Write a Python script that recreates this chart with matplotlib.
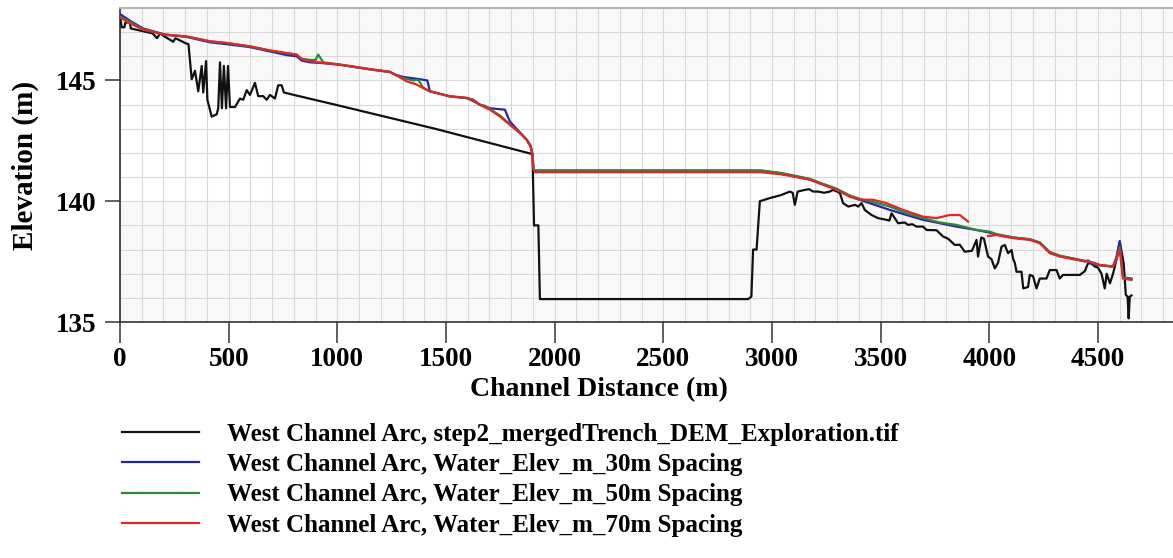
import numpy as np
import matplotlib.pyplot as plt
from matplotlib.ticker import MultipleLocator

plt.rcParams['font.family'] = ['Liberation Serif', 'DejaVu Serif']
plt.rcParams['font.weight'] = 'bold'

# ground profile along the channel (DEM)
dem_x = [0, 8, 20, 25, 45, 50, 100, 150, 170, 185, 200, 245, 255, 300, 315, 330, 345, 360,
         376, 383, 396, 402, 422, 445, 452, 460, 469, 478, 488, 497, 506, 529, 552, 567, 583,
         598, 621, 636, 659, 675, 690, 713, 728, 744, 754, 1012, 1450, 1898, 1905, 1925, 1932,
         2890, 2905, 2913, 2929, 2944, 2990, 3040, 3082, 3095, 3105, 3118, 3151, 3170, 3190,
         3212, 3240, 3266, 3281, 3312, 3327, 3351, 3382, 3397, 3412, 3427, 3458, 3488, 3527,
         3540, 3550, 3565, 3580, 3611, 3626, 3645, 3665, 3695, 3711, 3757, 3787, 3810, 3841,
         3864, 3887, 3920, 3941, 3948, 3963, 3975, 3994, 4010, 4025, 4040, 4056, 4071, 4086,
         4102, 4110, 4117, 4125, 4148, 4156, 4178, 4186, 4201, 4217, 4232, 4263, 4278, 4309,
         4324, 4339, 4370, 4416, 4439, 4454, 4470, 4485, 4500, 4516, 4531, 4540, 4555, 4569,
         4577, 4585, 4600, 4618, 4628, 4636, 4641, 4646, 4654]
dem_y = [147.65, 147.2, 147.2, 147.4, 147.4, 147.15, 147.05, 146.95, 146.75, 146.95, 146.85,
         146.6, 146.75, 146.55, 146.5, 145.05, 145.4, 144.55, 145.6, 144.5, 145.8, 144.2,
         143.5, 143.6, 143.85, 145.75, 143.85, 145.6, 143.85, 145.6, 143.9, 143.9, 144.25,
         144.2, 144.6, 144.4, 144.9, 144.35, 144.35, 144.2, 144.4, 144.25, 144.8, 144.8,
         144.5, 143.95, 143.0, 141.95, 139.0, 139.0, 135.95, 135.95, 136.05, 138.0, 138.0,
         140.0, 140.13, 140.25, 140.4, 140.35, 139.85, 140.4, 140.47, 140.5, 140.4, 140.4,
         140.35, 140.4, 140.47, 140.35, 139.92, 139.78, 139.85, 139.78, 139.92, 139.64,
         139.43, 139.3, 139.23, 139.2, 139.5, 139.3, 139.09, 139.12, 139.02, 139.05, 138.95,
         138.95, 138.81, 138.8, 138.54, 138.45, 138.19, 138.2, 137.91, 137.95, 138.4, 137.71,
         138.5, 138.45, 137.71, 137.6, 137.22, 137.45, 138.12, 138.19, 137.85, 137.98, 137.6,
         137.45, 137.08, 137.08, 136.39, 136.45, 136.95, 136.9, 136.39, 136.8, 136.8, 137.15,
         137.15, 136.8, 136.95, 136.95, 136.95, 137.1, 137.43, 137.43, 137.3, 137.25, 137.0,
         136.39, 137.0, 136.6, 137.0, 137.29, 137.6, 138.33, 137.43, 136.12, 136.05, 135.15,
         136.05, 136.1]

# water surface, 30 m spacing
w30_x = [0, 50, 107, 207, 307, 414, 491, 598, 690, 767, 813, 836, 874, 935, 1012, 1165, 1242,
         1265, 1300, 1380, 1414, 1426, 1518, 1595, 1625, 1656, 1702, 1771, 1794, 1840, 1871,
         1889, 1898, 1903, 1910, 2950, 3036, 3082, 3174, 3235, 3297, 3358, 3404, 3450, 3542,
         3619, 3695, 3772, 3849, 3941, 4002, 4033, 4109, 4186, 4232, 4278, 4324, 4401, 4440,
         4454, 4470, 4508, 4569, 4585, 4600, 4615, 4654]
w30_y = [147.75, 147.45, 147.15, 146.9, 146.8, 146.58, 146.5, 146.38, 146.2, 146.05, 146.0,
         145.82, 145.75, 145.72, 145.65, 145.44, 145.35, 145.25, 145.15, 145.05, 145.0, 144.55,
         144.34, 144.27, 144.15, 143.99, 143.85, 143.79, 143.3, 142.85, 142.55, 142.3, 141.95,
         141.3, 141.27, 141.27, 141.16, 141.08, 140.9, 140.7, 140.5, 140.2, 140.06, 139.92,
         139.64, 139.43, 139.23, 139.09, 138.95, 138.81, 138.7, 138.62, 138.5, 138.42, 138.28,
         137.88, 137.73, 137.6, 137.5, 137.55, 137.4, 137.35, 137.3, 137.7, 138.35, 136.85,
         136.8]

# water surface, 50 m spacing
w50_x = [0, 50, 107, 207, 307, 414, 491, 598, 690, 767, 813, 836, 874, 900, 912, 935, 1012,
         1165, 1242, 1265, 1300, 1350, 1372, 1395, 1426, 1518, 1595, 1625, 1656, 1680, 1702,
         1748, 1794, 1840, 1871, 1889, 1898, 1903, 1910, 2950, 3036, 3082, 3174, 3235, 3297,
         3358, 3404, 3450, 3542, 3619, 3695, 3772, 3849, 3941, 4002, 4033, 4109, 4186, 4232,
         4278, 4324, 4401, 4462, 4508, 4569, 4585, 4600, 4615, 4654]
w50_y = [147.65, 147.4, 147.12, 146.9, 146.82, 146.62, 146.55, 146.41, 146.24, 146.13,
         146.07, 145.9, 145.85, 145.85, 146.07, 145.75, 145.66, 145.45, 145.36, 145.24, 145.1,
         145.0, 145.03, 144.7, 144.55, 144.35, 144.28, 144.2, 144.0, 143.95, 143.82, 143.55,
         143.18, 142.84, 142.55, 142.28, 141.93, 141.3, 141.27, 141.27, 141.18, 141.1, 140.93,
         140.72, 140.52, 140.24, 140.1, 140.0, 139.78, 139.5, 139.3, 139.12, 139.02, 138.81,
         138.74, 138.64, 138.5, 138.43, 138.3, 137.9, 137.75, 137.6, 137.5, 137.36, 137.3,
         137.65, 138.1, 136.85, 136.78]

# water surface, 70 m spacing (gap between the two reaches)
w70_x = [0, 50, 107, 207, 307, 414, 491, 598, 690, 767, 813, 836, 874, 935, 1012, 1165, 1242,
         1265, 1280, 1319, 1360, 1395, 1426, 1518, 1595, 1625, 1656, 1702, 1748, 1794, 1840,
         1871, 1889, 1898, 1901, 1910, 2950, 3036, 3082, 3174, 3235, 3297, 3358, 3404, 3465,
         3527, 3603, 3695, 3757, 3818, 3864, 3902, 3950, 3994, 4033, 4109, 4186, 4232, 4278,
         4324, 4401, 4462, 4508, 4569, 4585, 4600, 4615, 4654]
w70_y = [147.6, 147.35, 147.1, 146.89, 146.82, 146.62, 146.55, 146.41, 146.24, 146.13, 146.07,
         145.86, 145.8, 145.72, 145.65, 145.44, 145.35, 145.24, 145.17, 144.96, 144.85, 144.68,
         144.55, 144.34, 144.27, 144.2, 143.99, 143.79, 143.51, 143.16, 142.82, 142.54, 142.27,
         141.92, 141.37, 141.2, 141.2, 141.12, 141.05, 140.89, 140.68, 140.47, 140.19, 140.06,
         140.06, 139.92, 139.64, 139.36, 139.3, 139.43, 139.43, 139.16, np.nan, 138.56, 138.6,
         138.47, 138.4, 138.26, 137.85, 137.71, 137.57, 137.5, 137.36, 137.29, 137.6, 138.0,
         136.8, 136.74]

labels = ['West Channel Arc, step2_mergedTrench_DEM_Exploration.tif',
          'West Channel Arc, Water_Elev_m_30m Spacing',
          'West Channel Arc, Water_Elev_m_50m Spacing',
          'West Channel Arc, Water_Elev_m_70m Spacing']
colors = ['#111111', '#2424b0', '#2a8a34', '#e02626']

fig = plt.figure(figsize=(11.73, 5.58), dpi=100)
ax = fig.add_axes([0.1023, 0.4229, 0.8977, 0.5628])

# alternating background bands
for lo, hi in [(135, 140), (145, 148)]:
    ax.axhspan(lo, hi, color='#f8f8f8', zorder=0, lw=0)

ax.plot(dem_x, dem_y, color=colors[0], lw=1.6, label=labels[0], zorder=3)
ax.plot(w30_x, w30_y, color=colors[1], lw=1.6, label=labels[1], zorder=4)
ax.plot(w50_x, w50_y, color=colors[2], lw=1.6, label=labels[2], zorder=5)
ax.plot(w70_x, w70_y, color=colors[3], lw=1.6, label=labels[3], zorder=6)

ax.set_xlim(0, 4845)
ax.set_ylim(135, 148)
ax.xaxis.set_major_locator(MultipleLocator(500))
ax.xaxis.set_minor_locator(MultipleLocator(100))
ax.yaxis.set_major_locator(MultipleLocator(5))
ax.yaxis.set_minor_locator(MultipleLocator(1))
ax.grid(which='both', color='#d8d8d8', lw=0.8, zorder=1)
ax.set_axisbelow(True)

ax.tick_params(axis='x', which='major', direction='out', length=15, width=1.2,
               labelsize=19.5, pad=3, color='#444444')
ax.tick_params(axis='y', which='major', direction='out', length=11, width=1.2,
               labelsize=19.5, pad=6, color='#444444')
ax.tick_params(which='minor', length=0)

ax.spines['right'].set_visible(False)
ax.spines['top'].set_color('#b5b5b5')
ax.spines['top'].set_linewidth(1.5)
ax.spines['left'].set_color('#333333')
ax.spines['bottom'].set_color('#333333')
ax.spines['left'].set_linewidth(1.2)
ax.spines['bottom'].set_linewidth(1.2)

ax.set_xlabel('Channel Distance (m)', fontsize=20, fontweight='bold')
ax.xaxis.set_label_coords(0.455, -0.175)
ax.set_ylabel('Elevation (m)', fontsize=21, fontweight='bold', labelpad=12)

fig.legend(loc='upper left', bbox_to_anchor=(0.104, 0.242), frameon=False,
           fontsize=18, handlelength=3.1, handletextpad=1.1, labelspacing=0.29,
           borderpad=0, borderaxespad=0)

plt.savefig('out.png', dpi=100)
plt.close(fig)
